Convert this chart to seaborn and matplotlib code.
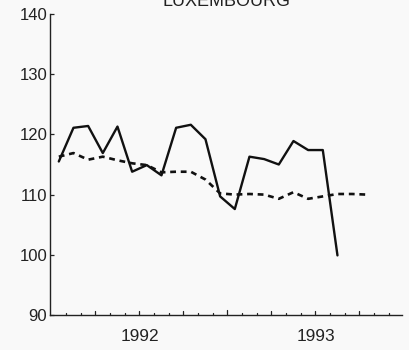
import matplotlib
matplotlib.use("Agg")
import matplotlib.pyplot as plt
from matplotlib import font_manager
import numpy as np
import pandas as pd
import seaborn as sns

# Monthly index, Luxembourg, Jan 1992 onward
actual = [115.5, 121.1, 121.4, 116.9, 121.3, 113.8, 114.9, 113.2, 121.1, 121.6,
          119.2, 109.7, 107.6, 116.3, 115.9, 115.0, 118.9, 117.4, 117.4, 99.9]
trend = [116.3, 116.9, 115.8, 116.3, 115.7, 115.2, 114.9, 113.7, 113.8, 113.8,
         112.5, 110.2, 110.0, 110.1, 110.0, 109.3, 110.4, 109.3, 109.7, 110.1,
         110.1, 110.0]
year_labels = ["1992", "1993"]
y_ticks = [90, 100, 110, 120, 130, 140]
title = "LUXEMBOURG"

sns.set_theme(style="white")
names = {f.name for f in font_manager.fontManager.ttflist}
narrow = "Liberation Sans Narrow" if "Liberation Sans Narrow" in names else "Liberation Sans"
plt.rcParams["font.family"] = ["Liberation Sans", "DejaVu Sans"]

bg = "#f9f9f9"
fig = plt.figure(figsize=(4.1, 3.5), dpi=100, facecolor=bg)
ax = fig.add_axes([50 / 410, 35 / 350, 352 / 410, 301 / 350])
ax.set_facecolor(bg)

df_a = pd.DataFrame({"month": np.arange(len(actual)) + 0.5, "value": actual})
df_t = pd.DataFrame({"month": np.arange(len(trend)) + 0.5, "value": trend})

sns.lineplot(data=df_a, x="month", y="value", ax=ax, color="#111111",
             linewidth=1.7, estimator=None)
sns.lineplot(data=df_t, x="month", y="value", ax=ax, color="#111111",
             linewidth=1.9, estimator=None)
ax.lines[-1].set_dashes((2.2, 1.8))

ax.set_xlim(-0.1, 23.9)
ax.set_ylim(90, 140)

for side in ("top", "right"):
    ax.spines[side].set_visible(False)
for side in ("left", "bottom"):
    ax.spines[side].set_color("#222222")
    ax.spines[side].set_linewidth(1.0)

# y axis ticks point inward
ax.set_yticks(y_ticks)
ax.set_yticklabels([str(v) for v in y_ticks], fontfamily=narrow, fontsize=12.0,
                   color="#222222")
ax.tick_params(axis="y", direction="in", length=3, width=0.9, pad=2,
               color="#222222", left=True)

# x axis: month ticks, taller at quarters and at the year boundary
ax.set_xticks([])
trans = ax.get_xaxis_transform()
for m in range(1, 24):
    if m == 12:
        h = 0.018
    elif m % 3 == 0:
        h = 0.012
    else:
        h = 0.008
    ax.plot([m, m], [0, h], transform=trans, color="#222222", lw=0.9,
            clip_on=False)
for i, lab in enumerate(year_labels):
    ax.text(6 + 12 * i, -0.048, lab, transform=trans, ha="center", va="top",
            fontsize=12.4, color="#222222")

ax.set_xlabel("")
ax.set_ylabel("")

fig.text(226 / 410, 1 - 6 / 350, title, ha="center", va="baseline",
         fontsize=13, color="#222222")

fig.savefig("out.png", dpi=100, facecolor=bg)
